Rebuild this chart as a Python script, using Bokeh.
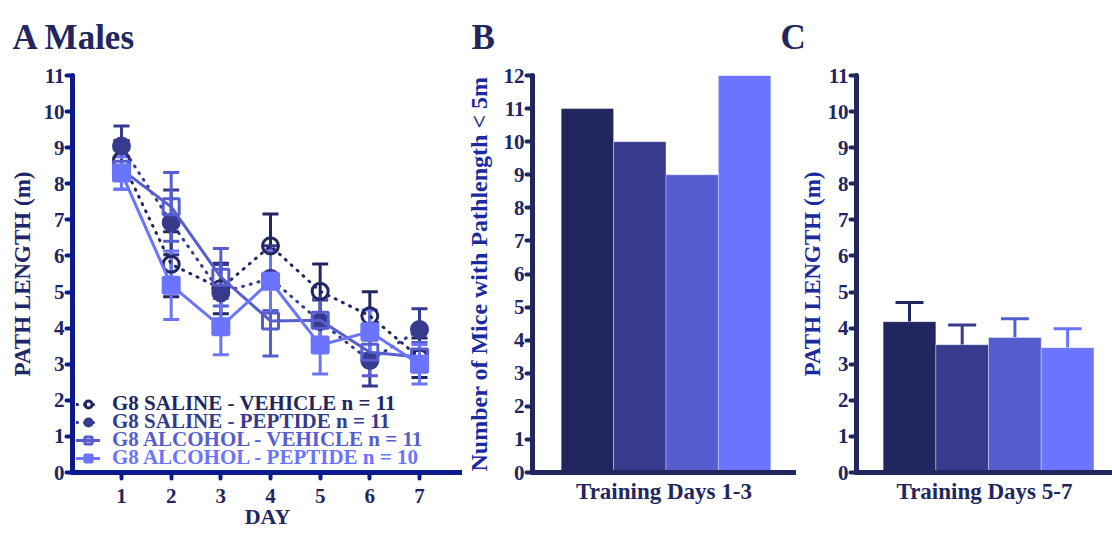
from bokeh.plotting import figure
from bokeh.models import (Range1d, Whisker, TeeHead, ColumnDataSource,
                          Legend, LegendItem, FixedTicker)
from bokeh.layouts import row
from bokeh.embed import file_html
from bokeh.resources import INLINE

# ---------------- data ----------------
days = [1, 2, 3, 4, 5, 6, 7]
group_names = ["G8 SALINE - VEHICLE", "G8 SALINE - PEPTIDE",
               "G8 ALCOHOL - VEHICLE", "G8 ALCOHOL - PEPTIDE"]
group_n = [11, 11, 11, 10]

sv_mean = [8.65, 5.77, 5.10, 6.28, 5.02, 4.34, 3.18]
sv_sem = [0.55, 0.90, 0.70, 0.88, 0.76, 0.67, 0.55]
sp_mean = [9.05, 6.93, 4.98, 5.38, 4.18, 3.10, 3.96]
sp_sem = [0.55, 0.90, 0.78, 0.90, 0.60, 0.70, 0.58]
av_mean = [8.40, 7.36, 5.41, 4.20, 4.22, 3.33, 3.20]
av_sem = [0.55, 0.95, 0.80, 0.97, 0.60, 0.65, 0.40]
ap_mean = [8.30, 5.19, 4.04, 5.30, 3.53, 3.90, 3.00]
ap_sem = [0.45, 0.95, 0.78, 0.85, 0.80, 0.60, 0.55]

b_counts = [11, 10, 9, 12]          # mice with pathlength < 5 m, days 1-3
c_mean = [4.18, 3.54, 3.74, 3.46]   # path length, days 5-7
c_sem = [0.53, 0.55, 0.52, 0.52]

# ---------------- style ----------------
FONT = "Liberation Serif"
NAVY = "#22265f"
AXIS_A = "#0c1a8e"
BLUE_LABEL = "#1b2a9e"
colors = ["#22265f", "#363b8e", "#565ecf", "#6b74fc"]
markers = ["circle", "circle", "square", "square"]
filled = [False, True, False, True]
dashes = ["1 7", "1 7", "solid", "solid"]


def style_axis(ax, line_color, label_color, label_size):
    ax.axis_line_width = 5
    ax.axis_line_color = line_color
    ax.axis_line_cap = "round"
    ax.major_tick_line_color = line_color
    ax.major_tick_line_width = 4
    ax.major_tick_line_cap = "round"
    ax.major_tick_in = 0
    ax.major_tick_out = 6
    ax.minor_tick_line_color = None
    ax.major_label_text_font = FONT
    ax.major_label_text_font_style = "bold"
    ax.major_label_text_font_size = "21px"
    ax.major_label_text_color = NAVY
    ax.major_label_standoff = 2
    ax.axis_label_text_font = FONT
    ax.axis_label_text_font_style = "bold"
    ax.axis_label_text_font_size = label_size
    ax.axis_label_text_color = label_color


def base_fig(width, xr, yr, left, right, letter, letter_offset, **kw):
    p = figure(width=width, height=533, x_range=xr, y_range=yr,
               output_backend="svg", toolbar_location=None,
               min_border_left=left, min_border_right=right,
               min_border_top=74, min_border_bottom=61, **kw)
    p.grid.visible = False
    p.outline_line_color = None
    p.title.text = letter
    p.title.align = "left"
    p.title.vertical_align = "top"
    p.title.offset = letter_offset
    p.title.standoff = 34
    p.title.text_font = FONT
    p.title.text_font_style = "bold"
    p.title.text_font_size = "35px"
    p.title.text_color = NAVY
    return p


# ---------------- panel A ----------------
pA = base_fig(462, Range1d(0.0134, 7.866), Range1d(0, 11), 72, 0,
              "A Males", -60)
style_axis(pA.xaxis[0], AXIS_A, NAVY, "22px")
style_axis(pA.yaxis[0], AXIS_A, "#20266a", "23px")
pA.xaxis[0].ticker = FixedTicker(ticks=days)
pA.yaxis[0].ticker = FixedTicker(ticks=list(range(0, 12)))
pA.xaxis[0].axis_label = "DAY"
pA.xaxis[0].major_label_standoff = 10
pA.xaxis[0].axis_label_standoff = -2
pA.yaxis[0].axis_label = "PATH LENGTH (m)"
pA.yaxis[0].axis_label_standoff = 6

means = [sv_mean, sp_mean, av_mean, ap_mean]
sems = [sv_sem, sp_sem, av_sem, ap_sem]
legend_items = []
for i in range(4):
    c = colors[i]
    src = ColumnDataSource(dict(
        x=days, y=means[i],
        upper=[m + s for m, s in zip(means[i], sems[i])],
        lower=[m - s for m, s in zip(means[i], sems[i])]))
    w = Whisker(source=src, base="x", upper="upper", lower="lower",
                line_color=c, line_width=3,
                upper_head=TeeHead(size=16, line_color=c, line_width=3),
                lower_head=TeeHead(size=16, line_color=c, line_width=3))
    w.level = "underlay"
    pA.add_layout(w)
    ln = pA.line("x", "y", source=src, line_color=c, line_width=3,
                 line_dash=dashes[i], line_cap="round")
    sc = pA.scatter("x", "y", source=src, marker=markers[i], size=16,
                    line_color=c, line_width=3,
                    fill_color=c if filled[i] else None)
    legend_items.append((f"{group_names[i]} n = {group_n[i]}", [ln, sc]))

row_offsets = [56, 38, 20, 2]
for i, (lab, rends) in enumerate(legend_items):
    lg = Legend(items=[LegendItem(label=lab, renderers=rends)],
                location=(4, row_offsets[i]))
    lg.border_line_color = None
    lg.background_fill_alpha = 0
    lg.padding = 0
    lg.margin = 0
    lg.spacing = 0
    lg.glyph_width = 24
    lg.glyph_height = 18
    lg.label_height = 18
    lg.label_standoff = 12
    lg.label_text_font = FONT
    lg.label_text_font_style = "bold"
    lg.label_text_font_size = "21px"
    lg.label_text_color = colors[i]
    pA.add_layout(lg)

# ---------------- panel B ----------------
xpos = [1, 2, 3, 4]
pB = base_fig(334, Range1d(-0.0472, 4.9717), Range1d(0, 12), 67, 1,
              "B", -61)
style_axis(pB.xaxis[0], NAVY, NAVY, "23px")
style_axis(pB.yaxis[0], NAVY, BLUE_LABEL, "24px")
pB.xaxis[0].ticker = FixedTicker(ticks=[])
pB.xaxis[0].major_tick_out = 0
pB.xaxis[0].axis_label = "Training Days 1-3"
pB.xaxis[0].axis_label_standoff = 6
pB.yaxis[0].ticker = FixedTicker(ticks=list(range(0, 13)))
pB.yaxis[0].axis_label = "Number of Mice with Pathlength < 5m"
pB.yaxis[0].axis_label_standoff = 9
pB.vbar(x=xpos, top=b_counts, width=1, fill_color=colors,
        line_color="white", line_alpha=0.35, line_width=1)

# ---------------- panel C ----------------
pC = base_fig(332, Range1d(-0.0057, 4.852), Range1d(0, 11), 76, 0,
              "C", -76, margin=(0, 0, 0, -16))
pC.border_fill_color = None
pC.background_fill_color = None
style_axis(pC.xaxis[0], NAVY, NAVY, "23px")
style_axis(pC.yaxis[0], NAVY, BLUE_LABEL, "23px")
pC.xaxis[0].ticker = FixedTicker(ticks=[])
pC.xaxis[0].major_tick_out = 0
pC.xaxis[0].axis_label = "Training Days 5-7"
pC.xaxis[0].axis_label_standoff = 6
pC.yaxis[0].ticker = FixedTicker(ticks=list(range(0, 12)))
pC.yaxis[0].axis_label = "PATH LENGTH (m)"
pC.yaxis[0].axis_label_standoff = 0
pC.vbar(x=xpos, top=c_mean, width=1, fill_color=colors,
        line_color="white", line_alpha=0.35, line_width=1)
for i in range(4):
    c = colors[i]
    src = ColumnDataSource(dict(x=[xpos[i]], upper=[c_mean[i] + c_sem[i]],
                                lower=[c_mean[i]]))
    w = Whisker(source=src, base="x", upper="upper", lower="lower",
                line_color=c, line_width=3,
                upper_head=TeeHead(size=28, line_color=c, line_width=3),
                lower_head=None)
    pC.add_layout(w)

layout = row(pA, pB, pC)
open("out.html", "w").write(file_html(layout, INLINE))
